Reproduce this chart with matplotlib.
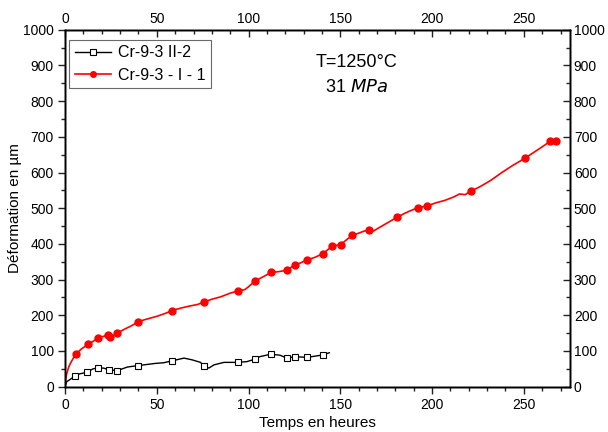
import matplotlib.pyplot as plt
import numpy as np

plt.rcParams['font.family'] = ['Liberation Sans', 'DejaVu Sans']

# red curve: Cr-9-3 - I - 1 (hours, µm)
red_t = [0, 0.3, 1, 2, 3, 4.5, 6, 9, 12.7, 15, 18.1, 21, 23.3, 24.5, 26, 28.5, 32, 36,
         39.9, 45, 50, 55, 58.1, 63, 68, 72, 75.7, 80, 85, 90, 94.1, 98, 100, 103.5,
         108, 112.2, 116, 120.8, 125.3, 128, 131.8, 136, 140.7, 143, 145.6, 150.2,
         153, 156.5, 160, 163, 165.6, 168, 172, 176, 181, 186, 192.4, 197.2, 202,
         207, 212, 215, 218, 221.1, 226, 232, 238, 244, 250.9, 255, 260, 264.5, 267.4]
red_d = [0, 20, 38, 55, 66, 80, 92, 106, 119, 126, 137, 141, 145, 138, 142, 150, 160, 170,
         182, 190, 197, 206, 213, 220, 226, 230, 237, 245, 252, 262, 268, 272, 280, 296,
         308, 320, 322, 326, 341, 346, 355, 362, 373, 383, 394, 398,
         410, 424, 430, 436, 438, 436, 448, 460, 475, 488, 502, 506, 515,
         522, 532, 540, 538, 548, 560, 578, 600, 620, 641, 655, 672, 688, 688]
red_mt = [6.0, 12.7, 18.1, 23.3, 24.5, 28.5, 39.9, 58.1, 75.7, 94.1, 103.5, 112.2, 120.8,
          125.3, 131.8, 140.7, 145.6, 150.2, 156.5, 165.6, 181.0, 192.4, 197.2, 221.1,
          250.9, 264.5, 267.4]
red_md = [92, 119, 137, 145, 138, 150, 182, 213, 237, 268, 296, 320, 326,
          341, 355, 373, 394, 398, 424, 438, 475, 502, 506, 548,
          641, 688, 688]

# black curve: Cr-9-3 II-2
blk_t = [0, 0.9, 2.7, 5.4, 8.1, 11.8, 15.3, 18.1, 21, 24.0, 28.5, 34, 39.9, 49, 53.8,
         58.1, 64.8, 69.3, 73.8, 75.7, 78.4, 81.1, 86.6, 94.1, 99, 103.5, 106.1, 112.2,
         117.2, 120.8, 125.3, 131.8, 140.7, 144]
blk_d = [0, 14, 20, 30, 36, 40, 50, 52, 52, 47, 45, 55, 59, 65, 67,
         72, 80, 75, 68, 58, 52, 61, 68, 68, 70, 77, 84, 91,
         88, 80, 84, 82, 89, 95]
blk_mt = [5.4, 11.8, 18.1, 24.0, 28.5, 39.9, 58.1, 75.7, 94.1, 103.5, 112.2, 120.8,
          125.3, 131.8, 140.7]
blk_md = [30, 40, 52, 47, 45, 59, 72, 58, 68, 77, 91, 80, 84, 82, 89]

x_major = np.arange(0, 251, 50)
x_minor = np.arange(0, 275, 10)
y_major = np.arange(0, 1001, 100)
y_minor = np.arange(0, 1001, 50)

fig = plt.figure(figsize=(6.08, 4.32), dpi=100)
ax = fig.add_axes([0.107, 0.105, 0.83, 0.826])

ax.plot(blk_t, blk_d, color='black', lw=1.0)
ax.plot(blk_mt, blk_md, 's', color='black', mfc='white', ms=5, mew=0.8)
ax.plot(red_t, red_d, color='red', lw=1.2)
ax.plot(red_mt, red_md, 'o', color='red', ms=5)

# legend proxies
ax.plot([], [], '-s', color='black', mfc='white', ms=4, mew=0.8, lw=1.0, label='Cr-9-3 II-2')
ax.plot([], [], '-o', color='red', ms=4, lw=1.2, label='Cr-9-3 - I - 1')
leg = ax.legend(loc='upper left', bbox_to_anchor=(0.008, 0.972), fontsize=11.5, frameon=True,
                fancybox=False, edgecolor='#444444', borderpad=0.35, labelspacing=0.45,
                handlelength=2.3, handletextpad=0.4, borderaxespad=0.0)
leg.get_frame().set_linewidth(0.8)

ax.text(159, 907, 'T=1250°C', fontsize=13, ha='center', va='center')
ax.text(159, 837, '31 $\\mathit{MPa}$', fontsize=13, ha='center', va='center')

ax.set_xlim(0, 275)
ax.set_ylim(0, 1000)
ax.set_xticks(x_major)
ax.set_xticks(x_minor, minor=True)
ax.set_yticks(y_major)
ax.set_yticks(y_minor, minor=True)
ax.tick_params(which='both', direction='out', labelsize=10, color='#222222', pad=3)
ax.tick_params(which='major', length=5, width=1)
ax.tick_params(which='minor', length=3, width=1)

# top axis, ticks inward
axt = ax.twiny()
axt.set_xlim(ax.get_xlim())
axt.set_xticks(x_major)
axt.set_xticks(x_minor, minor=True)
axt.tick_params(which='both', direction='in', labelsize=10, color='#222222', pad=3)
axt.tick_params(which='major', length=5, width=1)
axt.tick_params(which='minor', length=3, width=1)

# right axis, ticks inward
axr = ax.twinx()
axr.set_ylim(ax.get_ylim())
axr.set_yticks(y_major)
axr.set_yticks(y_minor, minor=True)
axr.tick_params(which='both', direction='in', labelsize=10, color='#222222', pad=3)
axr.tick_params(which='major', length=5, width=1)
axr.tick_params(which='minor', length=3, width=1)

for a in (ax, axt, axr):
    for s in a.spines.values():
        s.set_linewidth(1.0)

ax.set_xlabel('Temps en heures', fontsize=11, labelpad=3)
ax.set_ylabel('Déformation en µm', fontsize=11, labelpad=1)

fig.savefig('out.png', dpi=100)
